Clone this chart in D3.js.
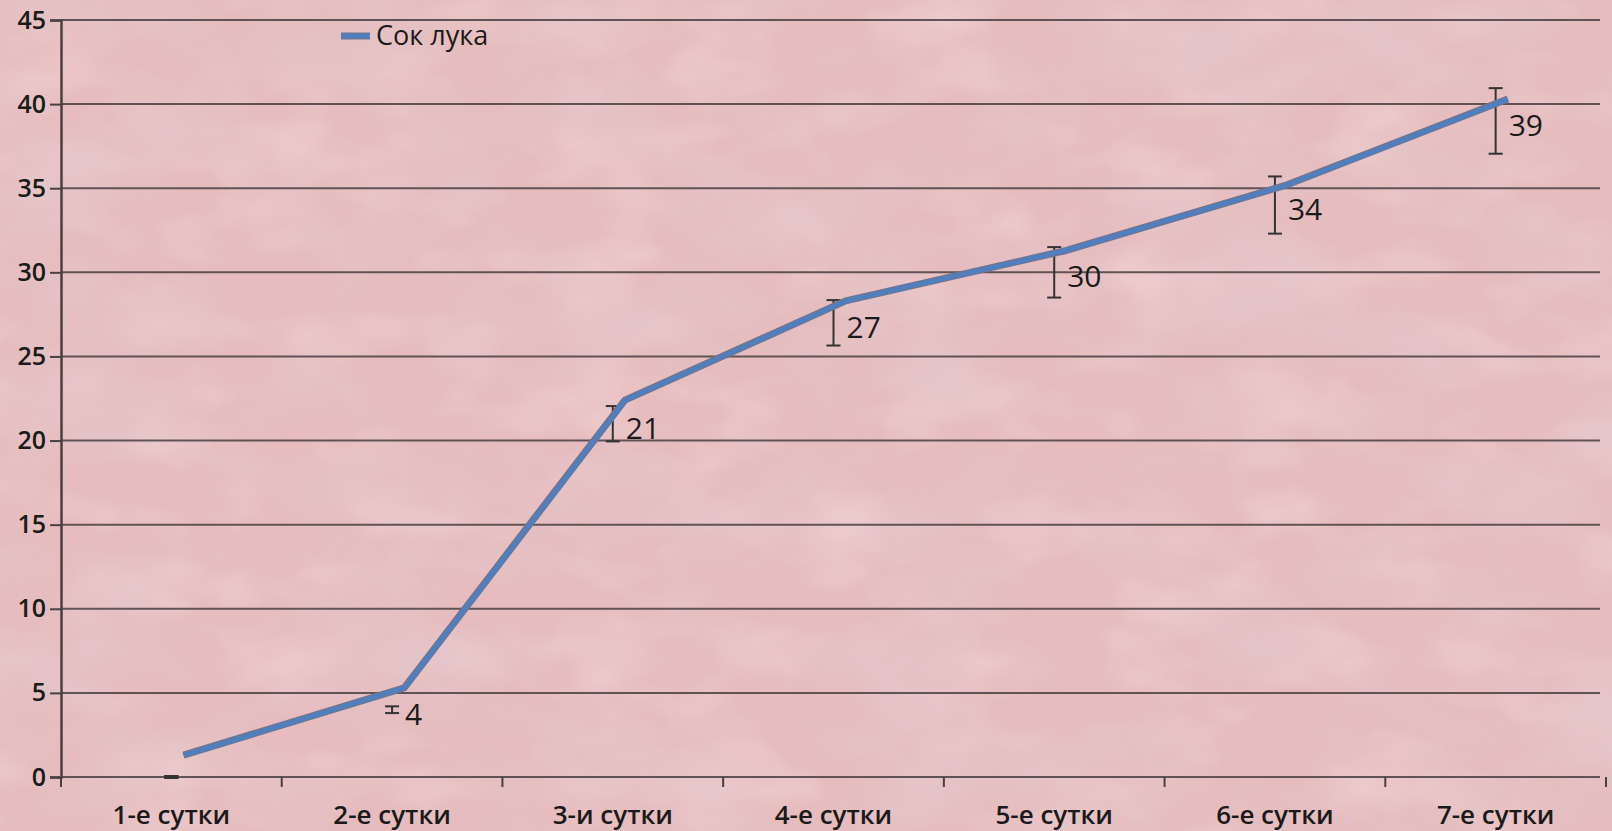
<!DOCTYPE html>
<html>
<head>
<meta charset="utf-8">
<script src="https://cdn.jsdelivr.net/npm/d3@7"></script>
<style>
  body { margin: 0; background: #e9c1c2; }
  svg { display: block; }
</style>
</head>
<body>
<svg id="chart" width="1612" height="831"></svg>
<script>
"use strict";

// data
var categories = ["1-е сутки", "2-е сутки", "3-и сутки", "4-е сутки", "5-е сутки", "6-е сутки", "7-е сутки"];
var lineValues = [1.3, 5.3, 22.4, 28.3, 31.3, 35.2, 40.3];
var labelValues = [0, 4, 21, 27, 30, 34, 39];
var errValues = [0, 0.2, 1.05, 1.35, 1.5, 1.7, 1.95];
var yTicks = [0, 5, 10, 15, 20, 25, 30, 35, 40, 45];
var seriesName = "Сок лука";

var W = 1612, H = 831;
var plotLeft = 61, plotRight = 1606, plotTop = 20, plotBottom = 777;
var labelFont = "'Open Sans', 'Noto Sans', sans-serif";

var svg = d3.select("#chart");

// marbled pink background
var defs = svg.append("defs");
var f = defs.append("filter").attr("id", "marble")
  .attr("x", 0).attr("y", 0).attr("width", "100%").attr("height", "100%");
f.append("feTurbulence")
  .attr("type", "fractalNoise")
  .attr("baseFrequency", "0.006 0.011")
  .attr("numOctaves", 4)
  .attr("seed", 7);
f.append("feColorMatrix")
  .attr("type", "matrix")
  .attr("values", "0 0 0 0 0.78  0 0 0 0 0.56  0 0 0 0 0.58  2.4 0 0 0 -1.0");

var f2 = defs.append("filter").attr("id", "marble2")
  .attr("x", 0).attr("y", 0).attr("width", "100%").attr("height", "100%");
f2.append("feTurbulence")
  .attr("type", "fractalNoise")
  .attr("baseFrequency", "0.009 0.016")
  .attr("numOctaves", 3)
  .attr("seed", 23);
f2.append("feColorMatrix")
  .attr("type", "matrix")
  .attr("values", "0 0 0 0 0.96  0 0 0 0 0.82  0 0 0 0 0.83  2.2 0 0 0 -1.0");

svg.append("rect").attr("width", W).attr("height", H).attr("fill", "#e6bcbe");
svg.append("rect").attr("width", W).attr("height", H).attr("filter", "url(#marble2)").attr("opacity", 0.35);
svg.append("rect").attr("width", W).attr("height", H).attr("filter", "url(#marble)").attr("opacity", 0.85);

var x = d3.scaleBand().domain(categories).range([plotLeft, plotRight]);
var y = d3.scaleLinear().domain([0, 45]).range([plotBottom, plotTop]);
var cx = function(i) { return x(categories[i]) + x.bandwidth() / 2; };
var lineShift = x.bandwidth() * 0.055;

// gridlines
svg.append("g").selectAll("line").data(yTicks).enter().append("line")
  .attr("x1", plotLeft).attr("x2", plotRight - 6)
  .attr("y1", function(d) { return y(d); })
  .attr("y2", function(d) { return y(d); })
  .attr("stroke", "#4a4042").attr("stroke-width", 2).attr("opacity", 0.85);

// y axis
var yAxis = svg.append("g")
  .attr("transform", "translate(" + plotLeft + ",0)")
  .call(d3.axisLeft(y).tickValues(yTicks).tickSize(11).tickPadding(4));
yAxis.select(".domain").attr("stroke", "#4a4042").attr("stroke-width", 2.5);
yAxis.selectAll(".tick line").attr("stroke", "#4a4042").attr("stroke-width", 2);
yAxis.selectAll("text")
  .attr("fill", "#1a1a1a")
  .style("font-family", labelFont)
  .style("font-size", "25px")
  .style("font-weight", "600");

// x axis
var xTickPos = d3.range(categories.length + 1).map(function(i) { return plotLeft + i * x.bandwidth(); });
var xAxisG = svg.append("g");
xAxisG.selectAll("line").data(xTickPos).enter().append("line")
  .attr("x1", function(d) { return d; }).attr("x2", function(d) { return d; })
  .attr("y1", plotBottom).attr("y2", plotBottom + 10)
  .attr("stroke", "#4a4042").attr("stroke-width", 2);
xAxisG.selectAll("text").data(categories).enter().append("text")
  .attr("x", function(d, i) { return cx(i); })
  .attr("y", plotBottom + 47)
  .attr("text-anchor", "middle")
  .attr("fill", "#1a1a1a")
  .style("font-family", labelFont)
  .style("font-size", "26px")
  .style("font-weight", "600")
  .text(function(d) { return d; });

// error bars
var eb = svg.append("g").attr("stroke", "#333").attr("stroke-width", 2);
labelValues.forEach(function(v, i) {
  var e = errValues[i];
  var bx = cx(i);
  eb.append("line").attr("x1", bx).attr("x2", bx).attr("y1", y(v + e)).attr("y2", y(v - e));
  eb.append("line").attr("x1", bx - 7).attr("x2", bx + 7).attr("y1", y(v + e)).attr("y2", y(v + e))
    .attr("stroke-width", e === 0 ? 4 : 2);
  eb.append("line").attr("x1", bx - 7).attr("x2", bx + 7).attr("y1", y(v - e)).attr("y2", y(v - e))
    .attr("stroke-width", e === 0 ? 4 : 2);
});

// value labels
svg.append("g").selectAll("text").data(labelValues).enter().append("text")
  .filter(function(d, i) { return i > 0; })
  .attr("x", function(d) { return cx(labelValues.indexOf(d)) + 13; })
  .attr("y", function(d) { return y(d) + 15; })
  .attr("fill", "#1a1a1a")
  .style("font-family", labelFont)
  .style("font-size", "30px")
  .text(function(d) { return d; });

// line
var line = d3.line()
  .x(function(d, i) { return cx(i) + lineShift; })
  .y(function(d) { return y(d); });
svg.append("path").datum(lineValues)
  .attr("d", line).attr("fill", "none")
  .attr("stroke", "#6f7590").attr("stroke-width", 7).attr("stroke-linejoin", "round");
svg.append("path").datum(lineValues)
  .attr("d", line).attr("fill", "none")
  .attr("stroke", "#4f7fbf").attr("stroke-width", 4.5).attr("stroke-linejoin", "round");

// legend
var lg = svg.append("g").attr("transform", "translate(341,36)");
lg.append("line").attr("x1", 0).attr("x2", 29).attr("y1", 0).attr("y2", 0)
  .attr("stroke", "#6f7590").attr("stroke-width", 7);
lg.append("line").attr("x1", 0).attr("x2", 29).attr("y1", 0).attr("y2", 0)
  .attr("stroke", "#4f7fbf").attr("stroke-width", 4.5);
lg.append("text").attr("x", 35).attr("y", 9)
  .attr("fill", "#1a1a1a")
  .style("font-family", labelFont)
  .style("font-size", "27px")
  .text(seriesName);
</script>
</body>
</html>
